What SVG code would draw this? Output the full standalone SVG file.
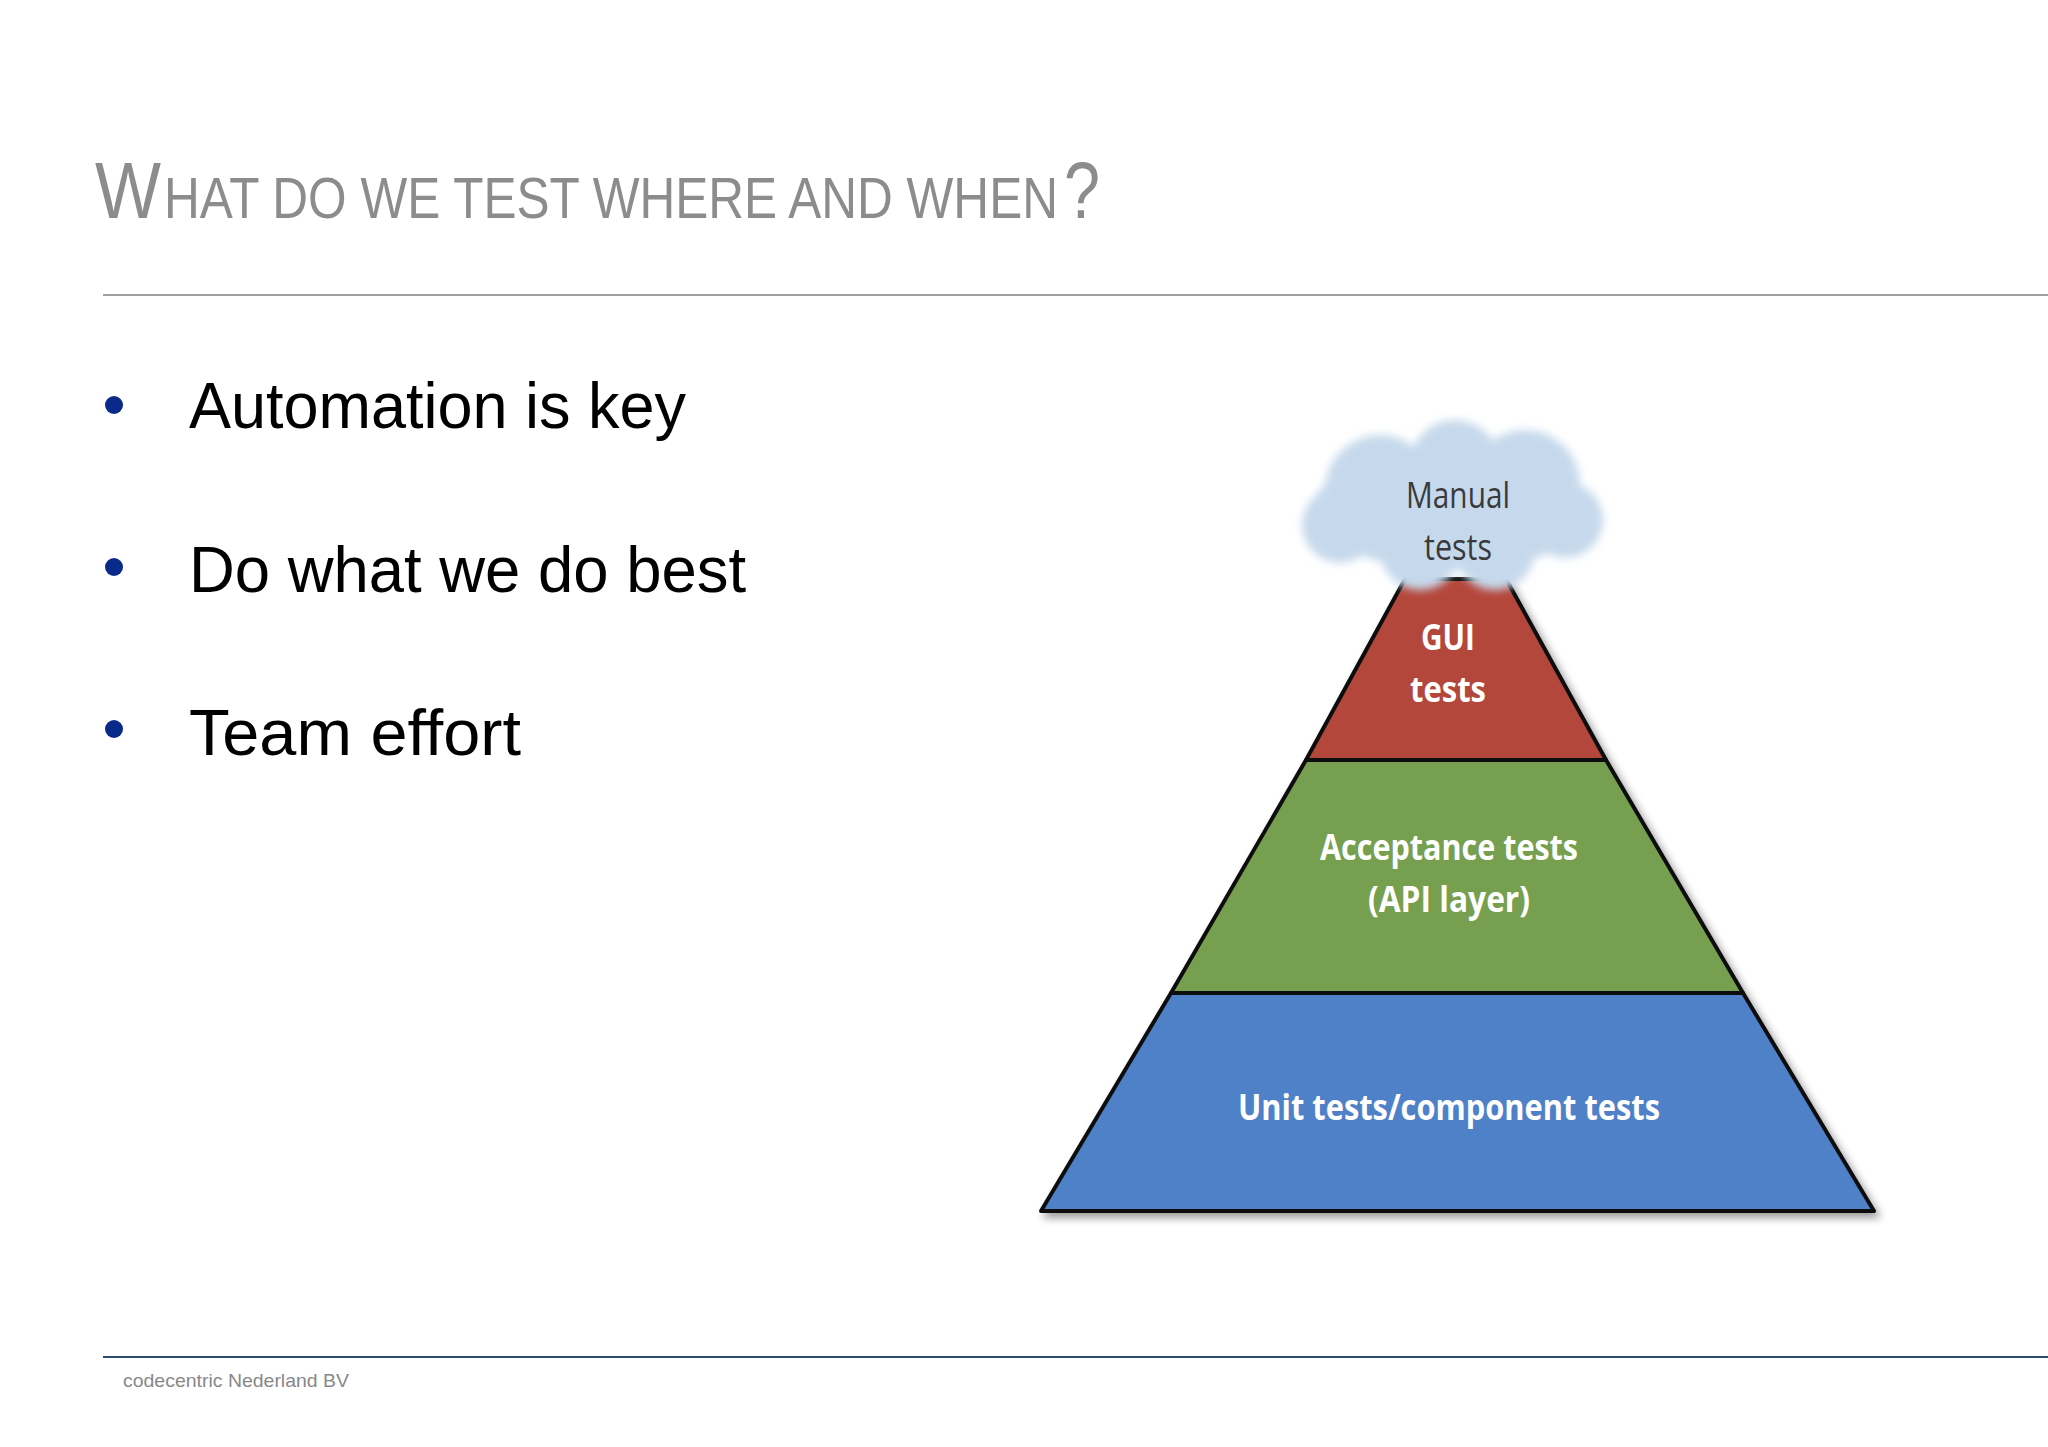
<svg xmlns="http://www.w3.org/2000/svg" width="2048" height="1447" viewBox="0 0 2048 1447">
<defs>
<filter id="sh" x="-10%" y="-10%" width="120%" height="120%"><feGaussianBlur in="SourceAlpha" stdDeviation="4"/><feOffset dx="4" dy="5"/><feComponentTransfer><feFuncA type="linear" slope="0.4"/></feComponentTransfer><feMerge><feMergeNode/><feMergeNode in="SourceGraphic"/></feMerge></filter>
<filter id="blur"><feGaussianBlur stdDeviation="4"/></filter>
</defs>
<style>
.t{font-family:"Liberation Sans",Arial,sans-serif;fill:#8c8c8c}
.b{font-family:"Liberation Sans",Arial,sans-serif;font-size:64px;fill:#000}
.l{font-family:"Open Sans","Liberation Sans",sans-serif;font-weight:bold;font-size:36px;fill:#fff;text-anchor:middle}
.m{font-family:"Open Sans","Liberation Sans",sans-serif;font-size:36px;fill:#3a3a3a;text-anchor:middle}
.dot{fill:#0a2a8a}
.seg{stroke:#111;stroke-width:4;stroke-linejoin:round}
</style>
<rect width="2048" height="1447" fill="#fff"/>
<g id="title">
<text class="t" x="95" y="218" font-size="80" textLength="66" lengthAdjust="spacingAndGlyphs">W</text>
<text class="t" x="164" y="218" font-size="58" textLength="894" lengthAdjust="spacingAndGlyphs">HAT DO WE TEST WHERE AND WHEN</text>
<text class="t" x="1064" y="218" font-size="80" textLength="36" lengthAdjust="spacingAndGlyphs">?</text>
</g>
<line x1="103" y1="295" x2="2048" y2="295" stroke="#a0a0a0" stroke-width="2"/>
<g id="bullets">
<circle class="dot" cx="114" cy="405" r="9"/><text class="b" x="189" y="428" textLength="497" lengthAdjust="spacingAndGlyphs">Automation is key</text>
<circle class="dot" cx="114" cy="567" r="9"/><text class="b" x="189" y="592" textLength="557" lengthAdjust="spacingAndGlyphs">Do what we do best</text>
<circle class="dot" cx="114" cy="729" r="9"/><text class="b" x="189" y="755" textLength="332" lengthAdjust="spacingAndGlyphs">Team effort</text>
</g>
<g id="pyramid" filter="url(#sh)">
<polygon id="unit" class="seg" fill="#4f81c9" points="1171,993 1743,993 1874,1211 1041,1211"/>
<polygon id="acceptance" class="seg" fill="#76a04f" points="1306,760 1606,760 1743,993 1171,993"/>
<polygon id="gui" class="seg" fill="#b4473a" points="1405,579 1506,579 1606,760 1306,760"/>
</g>
<g id="cloud">
<g fill="#c6d9ec" filter="url(#blur)">
<ellipse cx="1452" cy="510" rx="140" ry="60"/>
<circle cx="1380" cy="490" r="55"/><circle cx="1455" cy="465" r="45"/><circle cx="1525" cy="485" r="55"/>
<circle cx="1340" cy="525" r="38"/><circle cx="1565" cy="520" r="38"/>
<circle cx="1420" cy="550" r="40"/><circle cx="1495" cy="550" r="40"/>
</g>
<text class="m" x="1458" y="508" textLength="104" lengthAdjust="spacingAndGlyphs">Manual</text>
<text class="m" x="1458" y="560" textLength="68" lengthAdjust="spacingAndGlyphs">tests</text>
</g>
<g id="labels">
<text class="l" x="1448" y="650" textLength="54" lengthAdjust="spacingAndGlyphs">GUI</text>
<text class="l" x="1448" y="702" textLength="76" lengthAdjust="spacingAndGlyphs">tests</text>
<text class="l" x="1449" y="860" textLength="258" lengthAdjust="spacingAndGlyphs">Acceptance tests</text>
<text class="l" x="1449" y="912" textLength="162" lengthAdjust="spacingAndGlyphs">(API layer)</text>
<text class="l" x="1449" y="1120" textLength="422" lengthAdjust="spacingAndGlyphs">Unit tests/component tests</text>
</g>
<line x1="103" y1="1357" x2="2048" y2="1357" stroke="#2a4a6e" stroke-width="2"/>
<text id="footer" x="123" y="1387" font-family="Liberation Sans,Arial,sans-serif" font-size="19" fill="#888" textLength="226" lengthAdjust="spacingAndGlyphs">codecentric Nederland BV</text>
</svg>
